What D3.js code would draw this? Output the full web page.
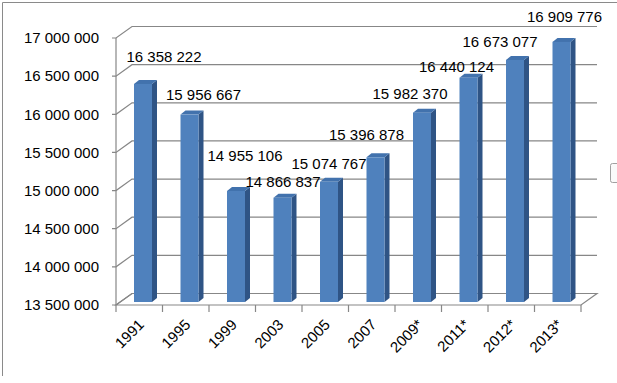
<!DOCTYPE html>
<html>
<head>
<meta charset="utf-8">
<script src="https://cdn.jsdelivr.net/npm/d3@7"></script>
<style>
  html, body { margin: 0; padding: 0; background: #fff; }
  svg { display: block; }
  text { font-family: "Liberation Sans", Arial, sans-serif; fill: #000; }
</style>
</head>
<body>
<svg id="chart" width="617" height="383"></svg>
<script>
// ---- data ----
const categories = ["1991", "1995", "1999", "2003", "2005", "2007", "2009*", "2011*", "2012*", "2013*"];
const values = [16358222, 15956667, 14955106, 14866837, 15074767, 15396878, 15982370, 16440124, 16673077, 16909776];
const yTicks = [13500000, 14000000, 14500000, 15000000, 15500000, 16000000, 16500000, 17000000];

// ---- layout (label placement offsets, px) ----
const labelDx = [21, 14, 9, 0.5, 0, -9, -12, -12, -15, 3];
const labelDy = [-30, -23, -38, -19, -21, -26, -22, -14, -21, -28];

(function () {
const svg = d3.select("#chart");
const plotL = 116, plotR = 581, plotT = 38, plotB = 305;
const depthX = 16, depthY = -11.5;
const barDX = 5, barDY = -4;

const fmt = v => d3.format(",")(v).replace(/,/g, " ");

const x = d3.scaleBand().domain(categories).range([plotL, plotR]).paddingInner(0).paddingOuter(0);
const y = d3.scaleLinear().domain([13500000, 17000000]).range([plotB, plotT]);

// chart border
svg.append("path")
  .attr("d", "M2.5,376 L2.5,2.5 L617,2.5")
  .attr("fill", "none").attr("stroke", "#8a8a8a").attr("stroke-width", 1);

const grid = svg.append("g").attr("fill", "none").attr("stroke", "#878787").attr("stroke-width", 1.2);

// floor
grid.append("path")
  .attr("d", `M${plotL},${plotB} L${plotR},${plotB} L${plotR + depthX},${plotB + depthY} L${plotL + depthX},${plotB + depthY} Z`);

// gridlines on side wall + back wall
yTicks.forEach(t => {
  const yy = y(t);
  grid.append("path")
    .attr("d", `M${plotL - 4},${yy} L${plotL},${yy} L${plotL + depthX},${yy + depthY} L${plotR + depthX},${yy + depthY}`);
});
// front vertical axis
grid.append("line").attr("x1", plotL).attr("x2", plotL).attr("y1", y(17000000)).attr("y2", plotB);

// x ticks
const tickXs = categories.map(c => x(c)).concat([plotR]);
tickXs.forEach(tx => {
  grid.append("line").attr("x1", tx).attr("x2", tx).attr("y1", plotB).attr("y2", plotB + 7);
});

// y tick labels
svg.append("g").selectAll("text").data(yTicks).join("text")
  .attr("x", 99).attr("y", d => y(d)).attr("dy", "0.35em")
  .attr("text-anchor", "end").attr("font-size", 15)
  .text(d => fmt(d));

// bars
const bw = 18, bOff = 18, baseShift = -3;
const bars = svg.append("g");
categories.forEach((c, i) => {
  const x0 = x(c) + bOff, x1 = x0 + bw;
  const yt = y(values[i]) + baseShift, yb = y(13500000) + baseShift;
  bars.append("path")
    .attr("d", `M${x1},${yt} L${x1 + barDX},${yt + barDY} L${x1 + barDX},${yb + barDY} L${x1},${yb} Z`)
    .attr("fill", "#2f5485");
  bars.append("path")
    .attr("d", `M${x0},${yt} L${x0 + barDX},${yt + barDY} L${x1 + barDX},${yt + barDY} L${x1},${yt} Z`)
    .attr("fill", "#4272ad");
  bars.append("rect")
    .attr("x", x0).attr("y", yt).attr("width", bw).attr("height", yb - yt)
    .attr("fill", "#4f81bd");
});

// data labels
svg.append("g").selectAll("text").data(values).join("text")
  .attr("x", (d, i) => x(categories[i]) + bOff + bw / 2 + labelDx[i])
  .attr("y", (d, i) => y(d) + labelDy[i])
  .attr("dy", "0.35em")
  .attr("text-anchor", "middle").attr("font-size", 15)
  .text(d => fmt(d));

// x labels
svg.append("g").selectAll("text").data(categories).join("text")
  .attr("transform", d => `translate(${x(d) + x.bandwidth() / 2 + 2},${322}) rotate(-45)`)
  .attr("dy", "0.35em")
  .attr("text-anchor", "end").attr("font-size", 15)
  .text(d => d);

// partially visible legend box at right edge
svg.append("rect")
  .attr("x", 610.5).attr("y", 163.5).attr("width", 20).attr("height", 19).attr("rx", 2)
  .attr("fill", "#fafafa").attr("stroke", "#a0a0a0");
})();
</script>
</body>
</html>
